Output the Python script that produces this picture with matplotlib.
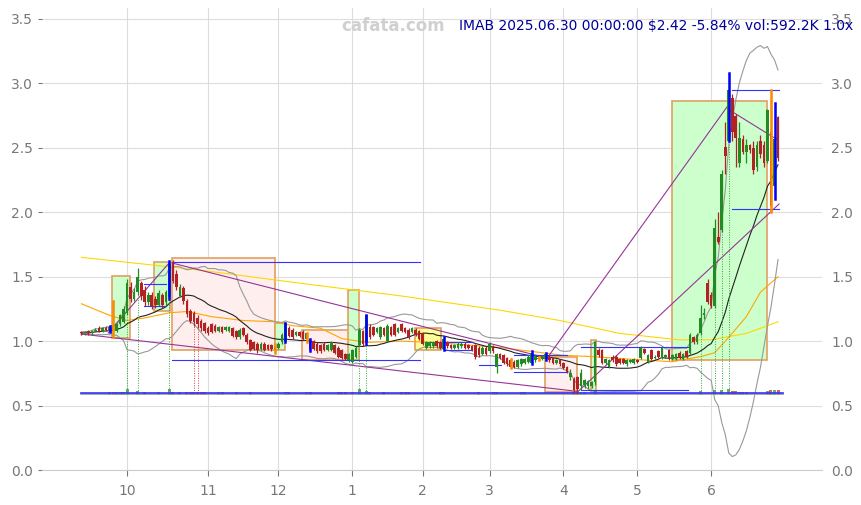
import numpy as np
import pandas as pd
import matplotlib
matplotlib.use("Agg")
import matplotlib.pyplot as plt
from matplotlib.patches import Rectangle

# --- OHLC, one bar per trading day (2024-09-12 .. 2025-06-30) ---
opens = [1.07, 1.06, 1.08, 1.06, 1.08, 1.10, 1.08, 1.10, 1.08, 1.10,
         1.08, 1.13, 1.15, 1.22, 1.42, 1.33, 1.38, 1.45, 1.40, 1.30,
         1.36, 1.33, 1.28, 1.36, 1.30, 1.34, 1.61, 1.52, 1.35, 1.41,
         1.31, 1.23, 1.22, 1.18, 1.16, 1.14, 1.10, 1.13, 1.12, 1.08,
         1.11, 1.09, 1.08, 1.10, 1.08, 1.03, 1.10, 1.05, 1.01, 0.99,
         0.98, 0.94, 0.98, 0.97, 0.97, 0.93, 0.95, 0.99, 1.00, 1.10,
         1.09, 1.05, 1.07, 1.07, 1.02, 1.02, 1.00, 0.98, 0.97, 0.98,
         0.93, 0.93, 0.97, 0.95, 0.93, 0.90, 0.85, 0.84, 0.88, 0.97,
         1.08, 0.99, 1.11, 1.11, 1.07, 1.03, 1.10, 1.00, 1.11, 1.13,
         1.07, 1.13, 1.10, 1.09, 1.07, 1.09, 1.08, 1.06, 0.95, 0.96,
         0.96, 1.00, 0.99, 0.94, 0.99, 0.97, 0.95, 0.95, 0.96, 0.98,
         0.97, 0.96, 0.97, 0.95, 0.90, 0.95, 0.92, 0.96, 0.80, 0.90,
         0.89, 0.87, 0.85, 0.84, 0.80, 0.82, 0.83, 0.84, 0.83, 0.85,
         0.86, 0.86, 0.86, 0.88, 0.87, 0.83, 0.85, 0.83, 0.80, 0.72,
         0.71, 0.72, 0.65, 0.66, 0.65, 0.65, 0.68, 0.93, 0.93, 0.83,
         0.80, 0.88, 0.88, 0.86, 0.86, 0.82, 0.84, 0.83, 0.85, 0.87,
         0.94, 0.84, 0.93, 0.87, 0.92, 0.87, 0.88, 0.93, 0.86, 0.86,
         0.91, 0.86, 0.92, 0.91, 1.03, 0.99, 1.06, 1.20, 1.45, 1.36,
         1.27, 1.81, 1.86, 2.51, 2.55, 2.89, 2.75, 2.38, 2.57, 2.47,
         2.52, 2.50, 2.35, 2.55, 2.52, 2.40, 2.62, 2.20, 2.74]
highs = [1.08, 1.08, 1.09, 1.09, 1.10, 1.12, 1.11, 1.12, 1.12, 1.31,
         1.14, 1.21, 1.27, 1.48, 1.46, 1.41, 1.57, 1.47, 1.43, 1.38,
         1.38, 1.35, 1.40, 1.37, 1.40, 1.62, 1.63, 1.55, 1.44, 1.43,
         1.33, 1.25, 1.23, 1.20, 1.17, 1.15, 1.12, 1.14, 1.13, 1.12,
         1.12, 1.12, 1.12, 1.11, 1.09, 1.10, 1.11, 1.06, 1.02, 1.00,
         0.99, 0.99, 0.99, 0.98, 0.98, 0.98, 0.99, 1.06, 1.14, 1.12,
         1.10, 1.08, 1.08, 1.09, 1.06, 1.02, 1.01, 0.99, 0.98, 0.99,
         0.98, 1.00, 0.98, 0.96, 0.94, 0.91, 0.91, 0.94, 0.96, 1.10,
         1.09, 1.20, 1.13, 1.12, 1.11, 1.12, 1.11, 1.13, 1.12, 1.14,
         1.11, 1.14, 1.11, 1.10, 1.11, 1.10, 1.09, 1.07, 1.00, 1.00,
         1.00, 1.01, 1.00, 1.03, 1.00, 0.98, 0.98, 0.99, 0.99, 0.99,
         0.98, 0.97, 0.98, 0.96, 0.96, 0.96, 0.99, 0.97, 0.91, 0.91,
         0.90, 0.88, 0.86, 0.85, 0.86, 0.87, 0.87, 0.89, 0.92, 0.89,
         0.88, 0.89, 0.91, 0.89, 0.88, 0.86, 0.86, 0.84, 0.81, 0.78,
         0.72, 0.73, 0.78, 0.71, 0.70, 0.69, 1.00, 0.95, 0.94, 0.87,
         0.86, 0.89, 0.89, 0.87, 0.87, 0.86, 0.86, 0.87, 0.86, 0.96,
         0.95, 0.90, 0.94, 0.89, 0.93, 0.96, 0.90, 0.94, 0.90, 0.91,
         0.92, 0.91, 0.93, 1.06, 1.04, 1.06, 1.28, 1.26, 1.48, 1.38,
         1.95, 2.00, 2.33, 2.70, 3.08, 2.92, 2.76, 2.70, 2.60, 2.57,
         2.53, 2.55, 2.55, 2.60, 2.55, 2.80, 2.95, 2.85, 2.75]
lows = [1.05, 1.05, 1.05, 1.05, 1.07, 1.07, 1.07, 1.08, 1.07, 1.03,
        1.07, 1.12, 1.14, 1.20, 1.30, 1.31, 1.36, 1.32, 1.27, 1.28,
        1.25, 1.26, 1.27, 1.26, 1.28, 1.33, 1.45, 1.40, 1.34, 1.29,
        1.19, 1.14, 1.12, 1.10, 1.08, 1.06, 1.05, 1.06, 1.07, 1.07,
        1.06, 1.08, 1.07, 1.03, 1.02, 1.02, 1.04, 0.98, 0.92, 0.93,
        0.91, 0.93, 0.92, 0.93, 0.92, 0.91, 0.94, 0.98, 0.99, 1.03,
        1.02, 1.04, 1.03, 1.01, 0.99, 0.92, 0.93, 0.91, 0.91, 0.92,
        0.92, 0.92, 0.90, 0.87, 0.86, 0.85, 0.84, 0.83, 0.87, 0.96,
        0.96, 0.98, 1.02, 1.04, 1.06, 1.02, 1.04, 0.99, 1.04, 1.04,
        1.06, 1.07, 1.06, 1.02, 1.06, 1.04, 1.01, 0.97, 0.94, 0.95,
        0.95, 0.95, 0.94, 0.93, 0.95, 0.94, 0.94, 0.94, 0.95, 0.94,
        0.94, 0.92, 0.86, 0.88, 0.89, 0.89, 0.91, 0.91, 0.75, 0.86,
        0.82, 0.81, 0.79, 0.79, 0.79, 0.81, 0.82, 0.83, 0.82, 0.84,
        0.85, 0.85, 0.85, 0.84, 0.82, 0.82, 0.81, 0.78, 0.75, 0.70,
        0.60, 0.60, 0.62, 0.64, 0.63, 0.64, 0.66, 0.88, 0.82, 0.82,
        0.79, 0.84, 0.81, 0.82, 0.82, 0.81, 0.83, 0.82, 0.83, 0.86,
        0.90, 0.83, 0.85, 0.86, 0.87, 0.86, 0.87, 0.85, 0.85, 0.85,
        0.86, 0.85, 0.87, 0.90, 0.98, 0.98, 1.05, 1.17, 1.29, 1.26,
        1.26, 1.75, 1.85, 2.30, 2.55, 2.55, 2.35, 2.35, 2.45, 2.38,
        2.46, 2.30, 2.32, 2.42, 2.35, 2.38, 2.00, 2.10, 2.40]
closes = [1.06, 1.07, 1.06, 1.08, 1.09, 1.08, 1.10, 1.09, 1.11, 1.12,
          1.13, 1.20, 1.25, 1.45, 1.33, 1.38, 1.50, 1.35, 1.30, 1.36,
          1.27, 1.28, 1.37, 1.28, 1.38, 1.60, 1.47, 1.42, 1.42, 1.31,
          1.21, 1.16, 1.15, 1.13, 1.10, 1.08, 1.06, 1.07, 1.08, 1.11,
          1.07, 1.11, 1.11, 1.04, 1.03, 1.09, 1.05, 0.99, 0.93, 0.94,
          0.93, 0.98, 0.93, 0.94, 0.94, 0.96, 0.98, 1.05, 1.14, 1.04,
          1.03, 1.07, 1.04, 1.02, 1.06, 0.93, 0.94, 0.92, 0.92, 0.93,
          0.97, 0.99, 0.91, 0.88, 0.87, 0.86, 0.90, 0.93, 0.95, 1.09,
          0.98, 1.20, 1.03, 1.05, 1.10, 1.11, 1.05, 1.12, 1.05, 1.05,
          1.10, 1.08, 1.07, 1.03, 1.10, 1.05, 1.02, 0.98, 0.99, 0.99,
          0.99, 0.96, 0.95, 1.02, 0.96, 0.95, 0.97, 0.98, 0.98, 0.95,
          0.95, 0.93, 0.88, 0.89, 0.95, 0.90, 0.98, 0.92, 0.90, 0.87,
          0.83, 0.82, 0.80, 0.80, 0.85, 0.86, 0.86, 0.88, 0.91, 0.88,
          0.87, 0.88, 0.90, 0.85, 0.83, 0.85, 0.82, 0.79, 0.76, 0.75,
          0.62, 0.63, 0.75, 0.70, 0.69, 0.68, 0.99, 0.89, 0.83, 0.86,
          0.85, 0.85, 0.82, 0.83, 0.83, 0.85, 0.85, 0.86, 0.84, 0.95,
          0.91, 0.89, 0.86, 0.88, 0.88, 0.95, 0.89, 0.86, 0.89, 0.90,
          0.87, 0.90, 0.88, 1.05, 0.99, 1.05, 1.18, 1.22, 1.30, 1.27,
          1.88, 1.77, 2.30, 2.44, 2.95, 2.62, 2.58, 2.58, 2.47, 2.52,
          2.48, 2.33, 2.52, 2.45, 2.38, 2.79, 2.05, 2.57, 2.42]

month_pos = [13, 36, 56, 77, 97, 116, 137, 158, 179]
month_lbl = ["10", "11", "12", "1", "2", "3", "4", "5", "6"]

# flagged candles
blue_bars = [8, 25, 58, 65, 81, 103, 128, 132, 184, 197]
orange_bars = [9, 55, 64, 122, 130, 196]
buy_marks = [13, 16, 25, 79, 81, 176, 180, 182, 184]
sell_marks = [32, 33]

# volume (only the bars that stand out)
vol_idx = [8, 9, 10, 11, 12, 13, 16, 18, 22, 25, 26, 28, 30, 31, 32, 33, 34, 35,
           39, 40, 44, 48, 58, 59, 64, 65, 73, 74, 75, 77, 79, 81, 82, 86, 91, 92,
           93, 102, 103, 113, 117, 118, 125, 126, 140, 141, 142, 143, 146, 176,
           180, 182, 184, 185, 186, 187, 188, 189, 195, 196, 197, 198]
vol_k = [300, 350, 250, 250, 300, 600, 400, 250, 300, 700, 300, 250, 250, 250,
         300, 300, 250, 250, 250, 250, 250, 300, 300, 250, 250, 250, 250, 250,
         250, 250, 600, 400, 250, 250, 250, 250, 250, 250, 250, 250, 300, 300,
         250, 250, 350, 350, 300, 300, 400, 400, 500, 500, 600, 450, 400, 350,
         350, 300, 450, 550, 500, 592]

# slow averages (bar index, price)
ma_yellow_x = [0, 34, 62, 91, 119, 136, 153, 170, 179, 189, 198]
ma_yellow_y = [1.65, 1.55, 1.45, 1.35, 1.24, 1.16, 1.06, 1.01, 1.01, 1.06, 1.15]
ma_orange_x = [0, 8, 13, 18, 25, 30, 37, 46, 55, 60, 68, 74, 81, 91, 100, 110,
               119, 128, 137, 145, 156, 168, 176, 180, 184, 189, 193, 198]
ma_orange_y = [1.29, 1.20, 1.16, 1.18, 1.22, 1.23, 1.19, 1.16, 1.15, 1.12, 1.10,
               1.02, 0.99, 1.00, 0.99, 0.97, 0.95, 0.92, 0.89, 0.88, 0.86, 0.84,
               0.88, 0.91, 1.03, 1.19, 1.38, 1.50]

# zones: x0, x1, low, high, fill
zones = [(8.7, 13.9, 1.024, 1.505, "#ccffcc"),
         (20.7, 25.2, 1.234, 1.614, "#ccffcc"),
         (25.8, 55.0, 0.930, 1.645, "#ffeeee"),
         (55.0, 57.9, 0.930, 1.140, "#ccffcc"),
         (62.7, 76.1, 0.854, 1.086, "#ffeeee"),
         (75.8, 78.9, 0.854, 1.400, "#ccffcc"),
         (94.8, 102.2, 0.930, 1.100, "#ffff99"),
         (131.8, 140.9, 0.605, 0.877, "#ffeeee"),
         (144.9, 146.3, 0.600, 1.010, "#ccffcc"),
         (167.9, 194.9, 0.854, 2.860, "#ccffcc")]

# support / resistance: x0, x1, price
levels = [(17.9, 24.1, 1.44), (17.9, 24.1, 1.27),
          (25.8, 96.3, 1.614), (25.8, 96.3, 0.854),
          (97.7, 111.0, 0.99), (103.0, 111.0, 0.93),
          (113.0, 119.4, 0.815),
          (123.0, 138.0, 0.89), (123.0, 138.0, 0.76),
          (142.0, 172.5, 0.955), (142.0, 172.5, 0.62),
          (185.0, 198.3, 2.95), (185.0, 198.3, 2.025)]

# trend lines: (x0, y0, x1, y1)
trends = [(7.6, 1.063, 24.9, 1.606),
          (0.0, 1.055, 141.0, 0.61),
          (25.8, 1.606, 132.4, 0.869),
          (132.4, 0.869, 184.1, 2.84),
          (141.0, 0.605, 198.3, 2.064),
          (183.8, 2.80, 198.0, 2.56)]

o = np.array(opens); h = np.array(highs); l = np.array(lows); c = np.array(closes)
n = len(c)
x = np.arange(n)
up = c >= o

s = pd.Series(c)
sma20 = s.rolling(20, min_periods=1).mean()
sd20 = s.rolling(20, min_periods=2).std(ddof=0).bfill()

fig = plt.figure(figsize=(8.62, 5.05), dpi=100)
ax = fig.add_axes([42 / 862, 35 / 505, 780 / 862, 462 / 505])

for x0, x1, lo, hi, fc in zones:
    ax.add_patch(Rectangle((x0, lo), x1 - x0, hi - lo, facecolor=fc,
                           edgecolor="#e0a060", lw=1.2, zorder=1))

ax.plot(ma_yellow_x, ma_yellow_y, color="#ffd700", lw=0.8, zorder=2)
ax.plot(ma_orange_x, ma_orange_y, color="#ffa500", lw=0.8, zorder=2)
ax.plot(x, sma20 + 2 * sd20, color="#999999", lw=0.8, zorder=2)
ax.plot(x, sma20 - 2 * sd20, color="#999999", lw=0.8, zorder=2)
ax.plot(x, sma20, color="#222222", lw=0.8, zorder=2)

for x0, y0, x1, y1 in trends:
    ax.plot([x0, x1], [y0, y1], color="#993399", lw=0.8, zorder=3)
for x0, x1, p in levels:
    ax.plot([x0, x1], [p, p], color="#3333ff", lw=0.8, zorder=3)

# volume band
vb = 0.585
for i, v in zip(vol_idx, vol_k):
    col = "#228b22" if up[i] else "#b22222"
    ax.bar(i, v / 600 * 0.04, bottom=vb, width=0.85, color=col, alpha=0.7, zorder=3)
ax.plot([0, n - 1 + 1.5], [0.588, 0.588], color="#999999", lw=1.2, zorder=4)
ax.plot([0, n - 1 + 1.5], [0.598, 0.598], color="#3333ff", lw=1.2, zorder=4)

for i in buy_marks:
    ax.plot([i, i], [0.6, l[i]], color="#33aa33", lw=0.7, ls=(0, (1, 1.5)), zorder=3)
for i in sell_marks:
    ax.plot([i, i], [0.6, l[i]], color="#cc4444", lw=0.7, ls=(0, (1, 1.5)), zorder=3)

# candles
colors = np.where(up, "#228b22", "#b22222")
ax.vlines(x, l, h, colors=colors, lw=0.9, zorder=5)
ax.bar(x, np.maximum(np.abs(c - o), 0.008), bottom=np.minimum(o, c), width=0.75,
       color=colors, zorder=5)
for i in blue_bars:
    ax.plot([i, i], [l[i], h[i]], color="#0000ff", lw=1.8, zorder=6)
for i in orange_bars:
    ax.plot([i, i], [l[i], h[i]], color="#ff8c00", lw=1.8, zorder=6)

ax.set_xlim(-11.2, 210.5)
ax.set_ylim(0, 3.585)
ax.set_xticks(month_pos)
ax.set_xticklabels(month_lbl)
ax.set_yticks(np.arange(0, 3.51, 0.5))
ax.set_yticklabels(["%.1f" % v for v in np.arange(0, 3.51, 0.5)])
ax.grid(True, color="#dddddd", lw=0.8, zorder=0)
ax.set_axisbelow(True)
for side in ["top", "right", "left"]:
    ax.spines[side].set_visible(False)
ax.spines["bottom"].set_color("#cccccc")
ax.tick_params(axis="both", colors="#777777", labelsize=10, length=4)
ax.tick_params(axis="y", labelright=True, right=False, length=3)
ax.tick_params(axis="x", pad=6)

fig.text(393 / 862, 1 - 26 / 505, "cafata.com", color="#d0d0d0", fontsize=12,
         fontweight="bold", ha="center", va="center")
fig.text(459 / 862, 1 - 26 / 505,
         "IMAB 2025.06.30 00:00:00 $2.42 -5.84% vol:592.2K 1.0x",
         color="#000099", fontsize=10, ha="left", va="center")

fig.savefig("out.png", dpi=100)
